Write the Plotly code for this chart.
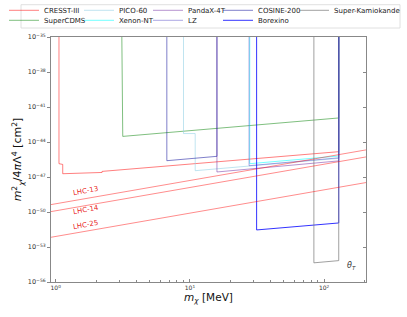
import math
import plotly.graph_objects as go

# ---------------- data ----------------
names = ["CRESST-III", "SuperCDMS", "PICO-60", "Xenon-NT", "PandaX-4T",
         "LZ", "COSINE-200", "Borexino", "Super-Kamiokande"]

cresst_m = [1.058, 1.058, 1.128, 1.128, 2.215, 2.215, 128.5, 128.5]
cresst_sigma = [1e-35, 1.38e-46, 1.2e-46, 1.91e-47, 2.45e-47, 3.02e-47, 1.48e-45, 1e-35]

supercdms_m = [3.11, 3.16, 128.5, 128.5]
supercdms_sigma = [1e-35, 3.02e-44, 1.15e-42, 1e-35]

pico_m = [8.96, 8.96, 10.95, 10.95, 128.5, 128.5]
pico_sigma = [1e-35, 5.3e-44, 5.3e-44, 3.47e-47, 3.98e-46, 1e-35]

xenon_m = [27.9, 27.9, 128.5, 128.5]
xenon_sigma = [1e-35, 1.38e-46, 6.3e-46, 1e-35]

pandax_m = [15.9, 15.9, 128.5, 128.5]
pandax_sigma = [1e-35, 2.7e-47, 2.4e-46, 1e-35]

lz_m = [27.6, 27.6, 128.5, 128.5]
lz_sigma = [1e-35, 9.3e-47, 4.4e-46, 1e-35]

cosine_m = [6.73, 6.73, 15.9, 15.9]
cosine_sigma = [1e-35, 2.5e-46, 5.9e-46, 1e-35]

borexino_m = [31.4, 31.4, 128.5, 128.5]
borexino_sigma = [1e-35, 2.9e-52, 1.15e-51, 1e-35]

superk_m = [83.9, 83.9, 128.5, 128.5]
superk_sigma = [1e-35, 4.4e-55, 6.8e-55, 1e-35]

lhc_names = ["LHC-13", "LHC-14", "LHC-25"]
lhc_m = [0.9, 210.0]
lhc13_sigma = [4.1e-50, 2.2e-45]
lhc14_sigma = [1.03e-50, 5.5e-46]
lhc25_sigma = [6.5e-53, 3.5e-48]
lhc_label_m = [1.68, 1.68, 1.68]
lhc_label_sigma = [5.9e-49, 1.6e-50, 7.1e-52]

x_tick_vals = [1, 10, 100]
x_tick_text = ["10<sup>0</sup>", "10<sup>1</sup>", "10<sup>2</sup>"]
x_minor_vals = [2, 3, 4, 5, 6, 7, 8, 9, 20, 30, 40, 50, 60, 70, 80, 90, 200]
y_tick_exps = [-35, -38, -41, -44, -47, -50, -53, -56]

# ---------------- styling ----------------
colors = {
    "CRESST-III": "rgba(255,0,0,0.5)",
    "SuperCDMS": "rgba(0,128,0,0.5)",
    "PICO-60": "rgba(150,210,230,0.6)",
    "Xenon-NT": "rgba(0,255,255,0.55)",
    "PandaX-4T": "rgba(110,40,160,0.5)",
    "LZ": "rgba(90,80,200,0.5)",
    "COSINE-200": "rgba(0,0,150,0.5)",
    "Borexino": "rgba(0,0,255,0.8)",
    "Super-Kamiokande": "rgba(120,120,120,0.7)",
}
lhc_color = "rgba(255,0,0,0.45)"

series = {
    "CRESST-III": (cresst_m, cresst_sigma),
    "SuperCDMS": (supercdms_m, supercdms_sigma),
    "PICO-60": (pico_m, pico_sigma),
    "Xenon-NT": (xenon_m, xenon_sigma),
    "PandaX-4T": (pandax_m, pandax_sigma),
    "LZ": (lz_m, lz_sigma),
    "COSINE-200": (cosine_m, cosine_sigma),
    "Borexino": (borexino_m, borexino_sigma),
    "Super-Kamiokande": (superk_m, superk_sigma),
}

# legend layout: matplotlib-like 5 columns x 2 rows (column-major)
W, H = 407, 317
ml, mr, mt, mb = 51, 41, 37, 35
pw, ph = W - ml - mr, H - mt - mb
col_text_px = [44, 119, 188, 258, 334]
row_center_px = [10.3, 20.3]

fig = go.Figure()

for i, n in enumerate(names):
    col, row = i // 2, i % 2
    lname = "legend" if i == 0 else f"legend{i + 1}"
    m, s = series[n]
    fig.add_trace(go.Scatter(
        x=m, y=s, mode="lines", name=n,
        line=dict(color=colors[n], width=1),
        legend=lname, hoverinfo="skip",
    ))
    lx = (col_text_px[col] - 40 - ml) / pw
    ly = (H - mb - row_center_px[row]) / ph
    fig.update_layout({lname: dict(
        x=lx, y=ly, xanchor="left", yanchor="middle",
        bgcolor="rgba(0,0,0,0)", borderwidth=0,
        font=dict(family="DejaVu Sans", size=7, color="#222"),
        itemwidth=30,
    )})

for sig in (lhc13_sigma, lhc14_sigma, lhc25_sigma):
    fig.add_trace(go.Scatter(x=lhc_m, y=sig, mode="lines", showlegend=False,
                             line=dict(color=lhc_color, width=1), hoverinfo="skip"))

# empty trace for the mirrored inner right ticks
fig.add_trace(go.Scatter(x=[], y=[], yaxis="y2", showlegend=False, hoverinfo="skip"))

for name, xm, ys in zip(lhc_names, lhc_label_m, lhc_label_sigma):
    fig.add_annotation(x=math.log10(xm), y=math.log10(ys), xref="x", yref="y",
                       text=name, showarrow=False, textangle=-10,
                       font=dict(family="DejaVu Sans", size=7, color="rgba(230,0,0,0.9)"))

fig.add_annotation(x=(358.3 - ml) / pw, y=(H - mb - 273.3) / ph, xref="paper", yref="paper",
                   text="<i>θ</i><sub><i>T</i></sub>", showarrow=False,
                   font=dict(family="DejaVu Sans", size=8, color="#333"))

# legend frame
fig.add_shape(type="rect", xref="paper", yref="paper",
              x0=(21 - ml) / pw, x1=(400 - ml) / pw,
              y0=(H - mb - 28) / ph, y1=(H - mb - 4.7) / ph,
              line=dict(color="#d8d8d8", width=0.8), fillcolor="rgba(0,0,0,0)", layer="below")

ytext = [f"10<sup>\u2212{abs(e)}</sup>" for e in y_tick_exps]
yvals = [10.0 ** e for e in y_tick_exps]
yrange = [-56, -35]

fig.update_layout(
    width=W, height=H,
    margin=dict(l=ml, r=mr, t=mt, b=mb, autoexpand=False),
    paper_bgcolor="white", plot_bgcolor="white",
    font=dict(family="DejaVu Sans", color="#222"),
    xaxis=dict(
        type="log", range=[-0.035, 2.312], showgrid=False, zeroline=False,
        showline=True, linecolor="#888", linewidth=1, mirror=True,
        ticks="inside", ticklen=3, tickcolor="#888",
        tickvals=x_tick_vals, ticktext=x_tick_text,
        tickfont=dict(size=6, color="#333"),
        minor=dict(ticks="inside", ticklen=2, tickcolor="#888", tickvals=x_minor_vals, showgrid=False),
        title=dict(text="<i>m</i><sub><i>χ</i></sub> [MeV]", font=dict(size=10.5, color="#111"), standoff=2),
    ),
    yaxis=dict(
        type="log", range=yrange, showgrid=False, zeroline=False,
        showline=True, linecolor="#888", linewidth=1, mirror=True,
        ticks="outside", ticklen=3, tickcolor="#888",
        tickvals=yvals, ticktext=ytext,
        tickfont=dict(size=6.5, color="#333"),
        title=dict(text="<i>m</i><sup>2</sup><sub><i>χ</i></sub>/4<i>π</i>Λ<sup>4</sup> [cm<sup>2</sup>]",
                   font=dict(size=11, color="#111"), standoff=3),
    ),
    yaxis2=dict(
        type="log", range=yrange, overlaying="y", side="right", anchor="x",
        showgrid=False, zeroline=False, showline=False,
        ticks="inside", ticklen=3, tickcolor="#888",
        tickvals=yvals, showticklabels=False,
    ),
)

fig.write_html("out.html", config={"displayModeBar": False},
               post_script="document.body.style.margin='0';document.body.style.padding='0';")
